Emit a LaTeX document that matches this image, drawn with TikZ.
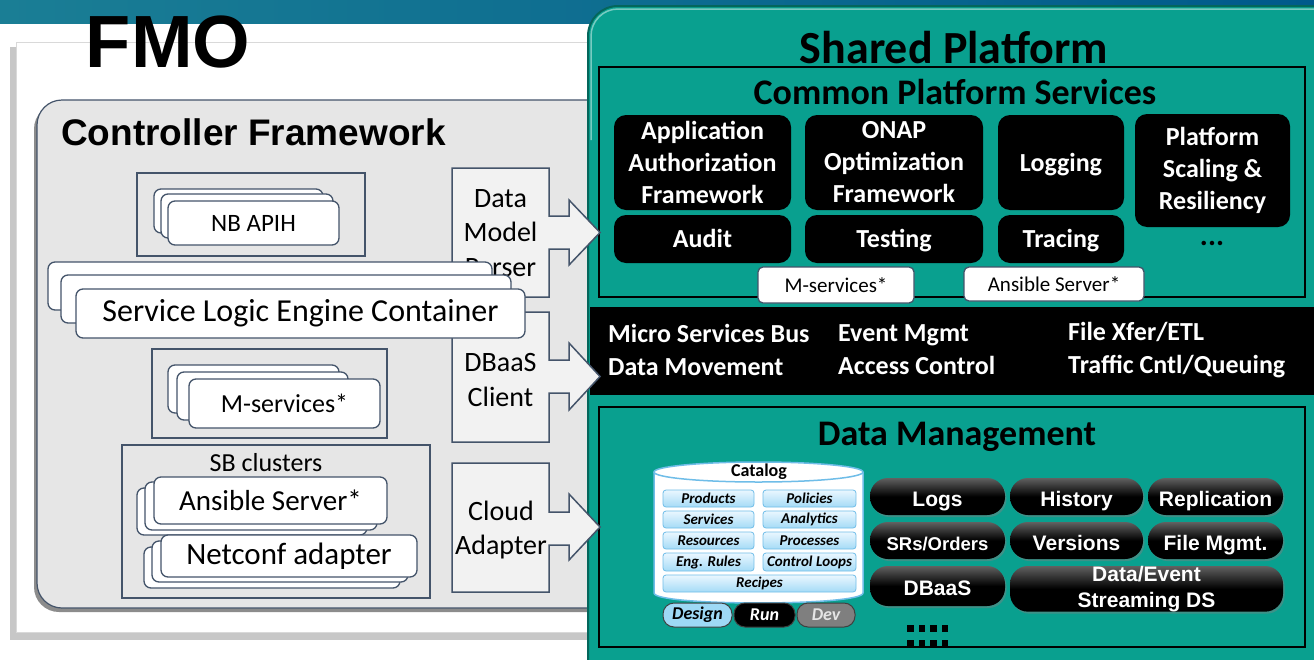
\documentclass[tikz,border=0pt]{standalone}
\usepackage{fontspec}
\setmainfont{Carlito}
\newfontfamily\arialf{Liberation Sans}
\usetikzlibrary{shadows}

\definecolor{bandL}{HTML}{1A7E95}
\definecolor{bandR}{HTML}{005A8B}
\definecolor{edge}{HTML}{44546A}
\definecolor{cfgray}{HTML}{E6E6E6}
\definecolor{callfill}{HTML}{F2F2F2}
\definecolor{spteal}{HTML}{09A08F}
\definecolor{tealedge}{HTML}{04665B}
\definecolor{catedge}{HTML}{6FBDE8}
\definecolor{catlight}{HTML}{EAF7FF}
\definecolor{catmid}{HTML}{A5DBF6}
\definecolor{designfill}{HTML}{9ED9F5}
\definecolor{devfill}{HTML}{7F7F7F}

% box from its top-left (x1,y1) to bottom-right (x2,y2): [opts]{style}{x1}{y1}{x2}{y2}{name}{text}
\newcommand\rbox[8][]{\node[#2,inner sep=0pt,outer sep=0pt,anchor=north west,
  minimum width={(#5-#3)*1pt},minimum height={(#6-#4)*1pt},#1] (#7) at (#3,#4) {#8};}

\begin{document}
\begin{tikzpicture}[x=1pt,y=-1pt,
  card/.style={draw=edge,fill=white,line width=1.3pt,rounded corners=7pt},
  grp/.style={draw=edge,fill=cfgray,line width=1.2pt},
  callout/.style={draw=edge,fill=callfill,line width=1.5pt,line join=miter},
  calltext/.style={font=\fontsize{28}{34.5}\selectfont,align=center,inner sep=0pt},
  cardtext/.style={font=\fontsize{#1}{#1}\selectfont},
  svc/.style={fill=black,rounded corners=12pt,text=white,align=center,
    font=\bfseries\fontsize{26}{32}\selectfont},
  oneline/.style={text height=17pt,text depth=0pt},
  mini/.style={card,rounded corners=5pt,font=\fontsize{21}{21}\selectfont},
  bustext/.style={text=white,font=\bfseries\fontsize{26}{33}\selectfont,
    align=left,anchor=west,inner sep=0pt},
  pill/.style={rounded corners=18pt,top color=black!62,bottom color=black,middle color=black,
    text=white,align=center,font=\arialf\bfseries\fontsize{21}{26}\selectfont,
    drop shadow={shadow xshift=1.5pt,shadow yshift=-2pt,opacity=0.45}},
  pilltext/.style={text height=19pt,text depth=0pt},
  catitem/.style={draw=catedge,top color=catlight,bottom color=catmid,rounded corners=3pt,
    line width=0.8pt,font=\bfseries\itshape\fontsize{15}{15}\selectfont},
  tabbox/.style={rounded corners=11pt,draw=black!75,line width=1pt,
    font=\bfseries\itshape\fontsize{18}{18}\selectfont}]

\useasboundingbox (0,0) rectangle (1314,659);
\fill[white] (0,0) rectangle (1314,659);

% title band
\shade[left color=bandL,right color=bandR] (0,0) rectangle (1314,23);

% FMO panel
\fill[black!22] (10,47) rectangle (625,640);
\filldraw[fill=white,draw=black!15,line width=1pt] (16,42) rectangle (625,632);
\node[font=\arialf\bfseries\fontsize{74}{74}\selectfont,inner sep=0pt] (fmo) at (168,42) {FMO};

% Controller Framework
\fill[black!45,rounded corners=25pt] (34,104) rectangle (640,612);
\filldraw[fill=cfgray,draw=edge,line width=1.2pt,rounded corners=25pt] (37,100) rectangle (640,608);
\node[font=\arialf\bfseries\fontsize{37}{37}\selectfont,anchor=base west,inner sep=0pt]
  (cftitle) at (61,145) {Controller Framework};

% Shared Platform
\filldraw[fill=spteal,draw=tealedge,line width=2pt,rounded corners=30pt] (588,6) rectangle (1345,700);
\draw[spteal!55!white,line width=1.5pt,rounded corners=27pt] (591,140) -- (591,9) -- (1345,9);
\node[font=\bfseries\fontsize{46}{46}\selectfont,inner sep=0pt] (sptitle) at (954,48) {Shared Platform};

% Common Platform Services
\draw[black,line width=2.5pt] (599,67) rectangle (1305,297);
\node[font=\bfseries\fontsize{36}{36}\selectfont,inner sep=0pt] (cpstitle) at (955,92) {Common Platform Services};
\rbox{svc}{614}{115}{791}{210}{aaf}{Application\\Authorization\\Framework}
\rbox{svc}{805}{115}{983}{210}{onap}{ONAP\\Optimization\\Framework}
\rbox{svc,oneline}{998}{115}{1124}{210}{logging}{Logging}
\rbox{svc}{1135}{114}{1290}{227}{scaling}{Platform\\Scaling \&\\Resiliency}
\rbox{svc,oneline}{614}{215}{791}{263}{audit}{Audit}
\rbox{svc,oneline}{805}{215}{983}{263}{testing}{Testing}
\rbox{svc,oneline}{998}{215}{1124}{263}{tracing}{Tracing}
\node[font=\bfseries\fontsize{30}{30}\selectfont,inner sep=0pt] (cpsmore) at (1212,243) {...};
\rbox{mini}{758}{267}{914}{303}{cpsmsvc}{M-services*}
\rbox{mini}{964}{267}{1144}{301}{cpsansible}{Ansible Server*}

% bus bar
\fill[black] (590,307) rectangle (1314,395);
\node[bustext] (bus1) at (608,350) {Micro Services Bus\\Data Movement};
\node[bustext] (bus2) at (838,350) {Event Mgmt\\Access Control};
\node[bustext] (bus3) at (1068,350) {File Xfer/ETL\\Traffic Cntl/Queuing};

% Data Management
\draw[black,line width=2.5pt] (599,407) rectangle (1305,647);
\node[font=\bfseries\fontsize{36}{36}\selectfont,inner sep=0pt] (dmtitle) at (957,437) {Data Management};

% catalog store
\filldraw[fill=white,draw=catedge,line width=1.5pt]
  (654,472) -- (654,593) .. controls (654,606.3) and (863,606.3) .. (863,593) -- (863,472);
\filldraw[fill=white,draw=catedge,line width=1.5pt] (758.5,472) ellipse [x radius=104.5,y radius=10];
\node[font=\bfseries\fontsize{18}{18}\selectfont,inner sep=0pt] (catalog) at (759,472) {Catalog};
\rbox{catitem}{663}{490}{754}{507}{products}{Products}
\rbox{catitem}{763}{490}{856}{507}{policies}{Policies}
\rbox{catitem}{663}{511}{754}{528}{services}{Services}
\rbox{catitem}{763}{511}{856}{528}{analytics}{Analytics}
\rbox{catitem}{663}{532}{754}{549}{resources}{Resources}
\rbox{catitem}{763}{532}{856}{549}{processes}{Processes}
\rbox{catitem}{663}{553}{754}{571}{engrules}{Eng. Rules}
\rbox{catitem}{763}{553}{856}{571}{ctrlloops}{Control Loops}
\rbox{catitem}{663}{575}{856}{592}{recipes}{Recipes}
\rbox{tabbox,fill=designfill}{663}{603}{732}{627}{design}{Design}
\rbox{tabbox,fill=black,text=white}{734}{603}{795}{627}{run}{Run}
\rbox{tabbox,fill=devfill,text=black!10}{797}{603}{855}{627}{dev}{Dev}

% data services
\rbox{pill,pilltext}{870}{478}{1005}{515}{logs}{Logs}
\rbox{pill,pilltext}{1010}{478}{1143}{515}{history}{History}
\rbox{pill,pilltext}{1148}{478}{1283}{515}{replication}{Replication}
\rbox[font=\arialf\bfseries\fontsize{18.5}{18.5}\selectfont]{pill,pilltext}{870}{522}{1005}{559}{srs}{SRs/Orders}
\rbox{pill,pilltext}{1010}{522}{1143}{559}{versions}{Versions}
\rbox{pill,pilltext}{1148}{522}{1283}{559}{filemgmt}{File Mgmt.}
\rbox{pill,pilltext}{870}{566}{1005}{606}{dbaas}{DBaaS}
\rbox{pill}{1010}{566}{1283}{606}{streaming}{Data/Event\\Streaming DS}
\foreach \c in {0,1,2,3}{
  \fill[black] (907+\c*11.5,625) rectangle ++(6.5,6.5);
  \fill[black] (907+\c*11.5,640) rectangle ++(6.5,6.5);
}

% interface callouts
\filldraw[callout] (452,168) -- (549,168) -- (549,216) -- (569,216) -- (569,200) -- (600,232.5)
  -- (569,265) -- (569,249) -- (549,249) -- (549,297) -- (452,297) -- cycle;
\node[calltext] (dmp) at (500.5,233) {Data\\Model\\Parser};
\filldraw[callout] (452,312) -- (549,312) -- (549,360) -- (569,360) -- (569,343) -- (600,376.5)
  -- (569,410) -- (569,393) -- (549,393) -- (549,442) -- (452,442) -- cycle;
\node[calltext] (dbc) at (500.5,380) {DBaaS\\Client};
\filldraw[callout] (452,463) -- (549,463) -- (549,512) -- (569,512) -- (569,494) -- (600,527)
  -- (569,560) -- (569,545) -- (549,545) -- (549,592) -- (452,592) -- cycle;
\node[calltext] (cla) at (501,530) {Cloud\\Adapter};

% NB APIH
\rbox{grp}{137}{173}{365}{256}{nbgrp}{}
\rbox{card}{154}{189}{323}{233}{nb3}{}
\rbox{card}{161}{194}{333}{238}{nb2}{}
\rbox[cardtext=25]{card}{168}{201}{339}{245}{nb1}{NB APIH}

% Service Logic Engine Container
\rbox{card}{48}{262}{492}{310}{sle3}{}
\rbox{card}{61}{275}{511}{323}{sle2}{}
\rbox[cardtext=32]{card}{76}{289}{525}{338}{sle1}{Service Logic Engine Container}

% M-services
\rbox{grp}{152}{349}{387}{438}{msgrp}{}
\rbox{card}{168}{365}{339}{413}{ms3}{}
\rbox{card}{177}{372}{348}{420}{ms2}{}
\rbox[cardtext=26]{card}{189}{379}{380}{428}{ms1}{M-services*}

% SB clusters
\rbox{grp}{122}{445}{430}{598}{sbgrp}{}
\node[font=\fontsize{26}{26}\selectfont,inner sep=0pt] (sblabel) at (266,463) {SB clusters};
\rbox{card}{137}{488}{367}{535}{ans3}{}
\rbox{card}{145}{482}{377}{530}{ans2}{}
\rbox[cardtext=29]{card}{154}{477}{387}{524}{ans1}{Ansible Server*}
\rbox{card}{144}{547}{400}{588}{nc3}{}
\rbox{card}{152}{541}{408}{582}{nc2}{}
\rbox[cardtext=31]{card}{161}{535}{417}{577}{nc1}{Netconf adapter}

\end{tikzpicture}
\end{document}
